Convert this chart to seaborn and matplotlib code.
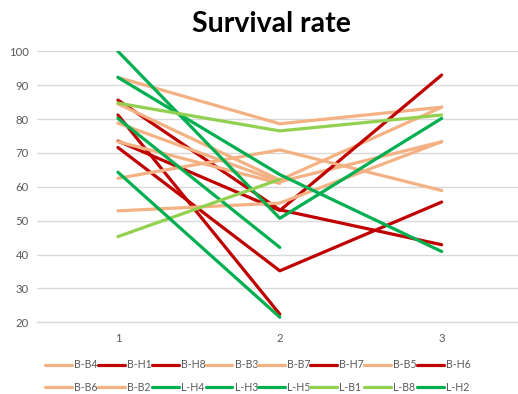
import matplotlib
matplotlib.use("Agg")
import matplotlib.pyplot as plt
import seaborn as sns
import numpy as np
import pandas as pd

# Survival rate of each line at three time points
time_points = [1, 2, 3]
series_names = ["B-B4", "B-H1", "B-H8", "B-B3", "B-B7", "B-H7", "B-B5", "B-H6",
                "B-B6", "B-B2", "L-H4", "L-H3", "L-H5", "L-B1", "L-B8", "L-H2"]

b_b4 = [92.3, 78.6, 83.5]
b_h1 = [85.6, 53.2, 42.9]
b_h8 = [81.2, 22.4, np.nan]
b_b3 = [84.5, 62.0, 83.5]
b_b7 = [78.8, 61.5, 73.3]
b_h7 = [73.5, 53.0, 93.0]
b_b5 = [73.3, 61.0, np.nan]
b_h6 = [71.6, 35.2, 55.5]
b_b6 = [62.5, 70.9, 58.9]
b_b2 = [52.9, 55.2, 73.3]
l_h4 = [100.0, 50.7, 80.2]
l_h3 = [92.3, 63.6, 40.9]
l_h5 = [80.2, 42.1, np.nan]
l_b1 = [84.7, 76.5, 81.2]
l_b8 = [45.3, 62.2, np.nan]
l_h2 = [64.3, 21.5, np.nan]

series_values = [b_b4, b_h1, b_h8, b_b3, b_b7, b_h7, b_b5, b_h6,
                 b_b6, b_b2, l_h4, l_h3, l_h5, l_b1, l_b8, l_h2]

y_ticks = [20, 30, 40, 50, 60, 70, 80, 90, 100]

ORANGE = "#F4B183"
RED = "#C00000"
GREEN = "#00B050"
LIGHT_GREEN = "#92D050"
palette = {
    "B-B4": ORANGE, "B-H1": RED, "B-H8": RED, "B-B3": ORANGE, "B-B7": ORANGE,
    "B-H7": RED, "B-B5": ORANGE, "B-H6": RED, "B-B6": ORANGE, "B-B2": ORANGE,
    "L-H4": GREEN, "L-H3": GREEN, "L-H5": GREEN, "L-B1": LIGHT_GREEN,
    "L-B8": LIGHT_GREEN, "L-H2": GREEN,
}

rows = []
for name, vals in zip(series_names, series_values):
    for t, v in zip(time_points, vals):
        if not np.isnan(v):
            rows.append({"time": t, "rate": v, "series": name})
df = pd.DataFrame(rows)

sns.set_theme(style="white")
plt.rcParams["font.family"] = ["Lato", "DejaVu Sans"]

W, H = 518, 394
fig = plt.figure(figsize=(W / 100, H / 100), dpi=100)
ax = fig.add_axes([37 / W, (H - 322.3) / H, (W - 37) / W, (322.3 - 51.3) / H])

sns.lineplot(data=df, x="time", y="rate", hue="series", hue_order=series_names,
             palette=palette, linewidth=2.3, sort=False, estimator=None,
             ax=ax, legend=True)

ax.set_xlim(0.5, 3 + (W - 441.7) / 161.85)
ax.set_ylim(20, 100)
ax.set_yticks(y_ticks)
ax.set_xticks(time_points)
ax.set_xticklabels([str(t) for t in time_points])
ax.set_xlabel("")
ax.set_ylabel("")
ax.grid(axis="y", color="#D9D9D9", linewidth=1.0)
ax.set_axisbelow(True)
for side in ["left", "right", "top"]:
    ax.spines[side].set_visible(False)
ax.spines["bottom"].set_color("#D9D9D9")
ax.spines["bottom"].set_linewidth(1.0)
ax.tick_params(axis="both", length=0, labelsize=8.2, colors="#595959")
ax.tick_params(axis="y", pad=6)
ax.tick_params(axis="x", pad=8)

handles, labels = ax.get_legend_handles_labels()
ax.get_legend().remove()
n = len(handles)
half = n // 2
order = []
for i in range(half):
    order += [i, i + half]
fig.legend([handles[i] for i in order], [labels[i] for i in order],
           loc="center", bbox_to_anchor=(258 / W, 1 - 376 / H), ncol=8,
           frameon=False, fontsize=7.6, handlelength=2.55, handletextpad=0.2,
           columnspacing=0.0, labelspacing=1.05, labelcolor="#595959")

fig.text(271 / W, 1 - 24 / H, "Survival rate", ha="center", va="center",
         fontsize=20.5, fontweight="bold", color="black")

fig.savefig("out.png", dpi=100)
